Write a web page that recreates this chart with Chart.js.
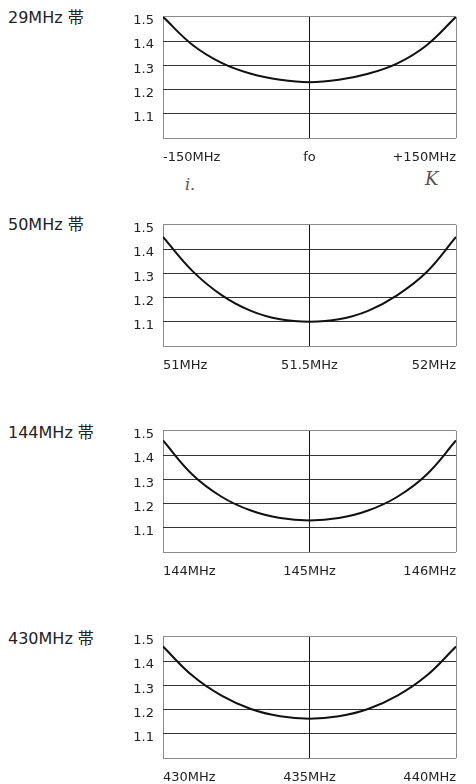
<!DOCTYPE html>
<html><head><meta charset="utf-8">
<script src="https://cdn.jsdelivr.net/npm/chart.js@4"></script>
<style>
html,body{margin:0;padding:0;background:#fff;width:476px;height:784px;overflow:hidden;position:relative;}
.t{position:absolute;left:8px;font-size:16px;font-family:'DejaVu Sans','Noto Sans CJK JP',sans-serif;color:#222;line-height:16px;white-space:nowrap;}
canvas{position:absolute;left:0;}
.h{position:absolute;font-style:italic;font-family:'DejaVu Serif',serif;color:#555;}
</style></head><body>
<div class="t" style="top:10px">29MHz 帯</div>
<div class="t" style="top:217px">50MHz 帯</div>
<div class="t" style="top:425px">144MHz 帯</div>
<div class="t" style="top:631px">430MHz 帯</div>
<div class="h" style="left:185px;top:175px;font-size:16px">i.</div>
<div class="h" style="left:425px;top:168px;font-size:18px">K</div>
<canvas id="c1" width="476" height="170" style="top:0px"></canvas>
<canvas id="c2" width="476" height="170" style="top:208px"></canvas>
<canvas id="c3" width="476" height="170" style="top:414px"></canvas>
<canvas id="c4" width="476" height="170" style="top:620px"></canvas>
<script>
const yTickValues = [1.0, 1.1, 1.2, 1.3, 1.4, 1.5];
const yTickLabels = ['', '1.1', '1.2', '1.3', '1.4', '1.5'];

const band29Freq = [-150, -120, -90, -60, -30, 0, 30, 60, 90, 120, 150];
const band29SWR  = [1.50, 1.385, 1.31, 1.265, 1.24, 1.23, 1.24, 1.265, 1.308, 1.383, 1.50];
const band29Ticks = [-150, 0, 150];
const band29Labels = ['-150MHz', 'fo', '+150MHz'];

const band50Freq = [51.0, 51.1, 51.2, 51.3, 51.4, 51.5, 51.6, 51.7, 51.8, 51.9, 52.0];
const band50SWR  = [1.45, 1.31, 1.21, 1.145, 1.11, 1.10, 1.11, 1.145, 1.21, 1.305, 1.45];
const band50Ticks = [51, 51.5, 52];
const band50Labels = ['51MHz', '51.5MHz', '52MHz'];

const band144Freq = [144.0, 144.2, 144.4, 144.6, 144.8, 145.0, 145.2, 145.4, 145.6, 145.8, 146.0];
const band144SWR  = [1.46, 1.32, 1.228, 1.171, 1.14, 1.13, 1.14, 1.171, 1.228, 1.32, 1.46];
const band144Ticks = [144, 145, 146];
const band144Labels = ['144MHz', '145MHz', '146MHz'];

const band430Freq = [430, 431, 432, 433, 434, 435, 436, 437, 438, 439, 440];
const band430SWR  = [1.46, 1.34, 1.257, 1.202, 1.172, 1.162, 1.172, 1.202, 1.257, 1.34, 1.46];
const band430Ticks = [430, 435, 440];
const band430Labels = ['430MHz', '435MHz', '440MHz'];

Chart.defaults.font.family = "'DejaVu Sans', sans-serif";
Chart.defaults.font.size = 13;
Chart.defaults.color = '#222';

function makeChart(id, freq, swr, xt, xl) {
  new Chart(document.getElementById(id), {
    type: 'line',
    data: {
      datasets: [{
        data: freq.map((f, i) => ({x: f, y: swr[i]})),
        borderColor: '#111',
        borderWidth: 2,
        pointRadius: 0,
        fill: false,
        tension: 0.4
      }]
    },
    options: {
      responsive: false,
      animation: false,
      events: [],
      layout: {padding: {left: 0, right: 20, top: 15, bottom: 0}},
      plugins: {legend: {display: false}, tooltip: {enabled: false}},
      scales: {
        x: {
          type: 'linear',
          min: xt[0], max: xt[xt.length - 1],
          afterBuildTicks: s => { s.ticks = xt.map(v => ({value: v})); },
          afterFit: s => { s.height = 32; },
          ticks: {
            callback: (v, i) => xl[i],
            align: 'inner', padding: 12, maxRotation: 0, autoSkip: false
          },
          grid: {
            drawTicks: false, lineWidth: 1,
            color: c => c.index === 1 ? '#111' : '#8a8a8a'
          },
          border: {display: false}
        },
        y: {
          min: yTickValues[0], max: yTickValues[yTickValues.length - 1],
          afterBuildTicks: s => { s.ticks = yTickValues.map(v => ({value: v})); },
          afterFit: s => { s.width = 163; },
          ticks: {
            callback: (v, i) => yTickLabels[i],
            padding: 9, labelOffset: 4, autoSkip: false
          },
          grid: {
            drawTicks: false, lineWidth: 1,
            color: c => (c.index === 0 || c.index === yTickValues.length - 1) ? '#8a8a8a' : '#333'
          },
          border: {display: false}
        }
      }
    }
  });
}

makeChart('c1', band29Freq, band29SWR, band29Ticks, band29Labels);
makeChart('c2', band50Freq, band50SWR, band50Ticks, band50Labels);
makeChart('c3', band144Freq, band144SWR, band144Ticks, band144Labels);
makeChart('c4', band430Freq, band430SWR, band430Ticks, band430Labels);
</script>
</body></html>
